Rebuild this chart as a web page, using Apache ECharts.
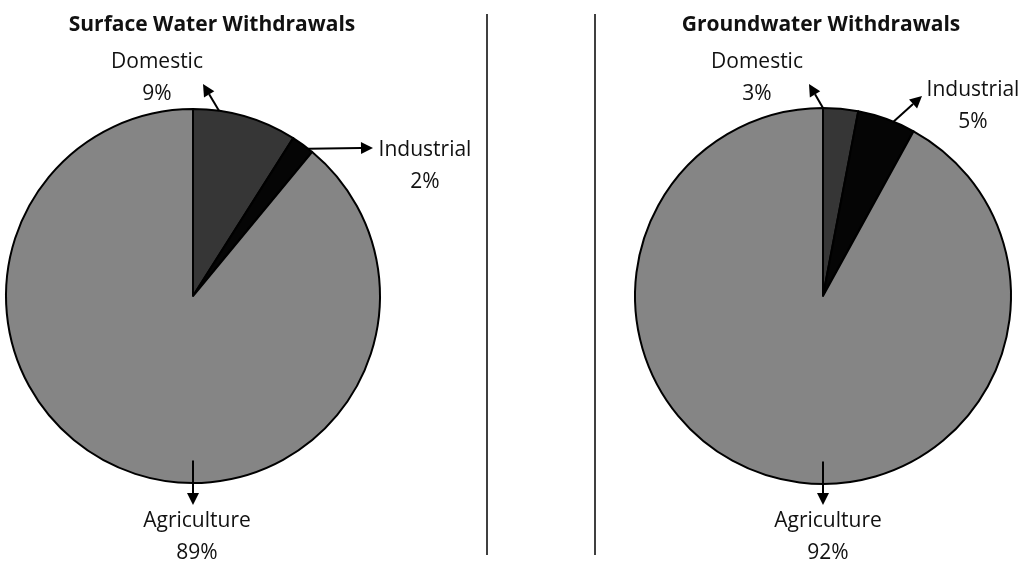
<!DOCTYPE html>
<html>
<head>
<meta charset="utf-8">
<script src="https://cdn.jsdelivr.net/npm/echarts@6/dist/echarts.min.js"></script>
<style>
  html, body { margin: 0; padding: 0; background: #fff; }
  #chart { width: 1028px; height: 572px; }
</style>
</head>
<body>
<div id="chart"></div>
<script>
// data (percent of withdrawals)
const categories = ['Domestic', 'Industrial', 'Agriculture']
const surfaceShares = [9, 2, 89]
const groundShares = [3, 5, 92]
const titles = ['Surface Water Withdrawals', 'Groundwater Withdrawals']

const FONT = 'Open Sans'
const sliceColors = ['#363636', '#050505', '#858585']

// pie placement + where each callout sits
const pies = [
  {
    center: [193, 296], radius: 187, titleX: 207,
    labels: [[157, 78], [425, 166], [197, 537]],
    arrows: [
      { angle: 8, rf: 1.0, tip: [203, 84] },
      { angle: 38, rf: 1.0, tip: [373, 148] },
      { angle: 180, rf: 0.88, tip: [193, 505] }
    ]
  },
  {
    center: [823, 296], radius: 188, titleX: 816,
    labels: [[757, 78], [973, 106], [828, 537]],
    arrows: [
      { angle: 0, rf: 1.0, tip: [809, 84] },
      { angle: 22, rf: 1.0, tip: [922, 96] },
      { angle: 180, rf: 0.88, tip: [823, 505] }
    ]
  }
]

function arrowGraphics(pie) {
  const out = []
  pie.arrows.forEach(a => {
    const rad = a.angle * Math.PI / 180
    const sx = pie.center[0] + pie.radius * a.rf * Math.sin(rad)
    const sy = pie.center[1] - pie.radius * a.rf * Math.cos(rad)
    const tx = a.tip[0], ty = a.tip[1]
    const len = Math.hypot(tx - sx, ty - sy)
    const ux = (tx - sx) / len, uy = (ty - sy) / len
    const headLen = 12, headW = 6
    const bx = tx - ux * headLen, by = ty - uy * headLen
    out.push({
      type: 'polyline',
      shape: { points: [[sx, sy], [bx, by]] },
      style: { stroke: '#000', lineWidth: 2 },
      z: 10
    })
    out.push({
      type: 'polygon',
      shape: { points: [[tx, ty], [bx - uy * headW, by + ux * headW], [bx + uy * headW, by - ux * headW]] },
      style: { fill: '#000' },
      z: 10
    })
  })
  return out
}

function pieSeries(values, pie) {
  return {
    type: 'pie',
    center: pie.center,
    radius: pie.radius,
    startAngle: 90,
    clockwise: true,
    animation: false,
    silent: true,
    itemStyle: { borderColor: '#000', borderWidth: 2 },
    label: {
      show: true,
      position: 'inside',
      formatter: '{b}\n{c}%',
      fontFamily: FONT,
      fontSize: 21,
      lineHeight: 32,
      color: '#111',
      overflow: 'none'
    },
    labelLine: { show: false },
    labelLayout: params => {
      const p = pie.labels[params.dataIndex]
      return { x: p[0], y: p[1], align: 'center', verticalAlign: 'middle' }
    },
    data: categories.map((name, i) => ({
      name: name,
      value: values[i],
      itemStyle: { color: sliceColors[i] }
    }))
  }
}

const chart = echarts.init(document.getElementById('chart'))
chart.setOption({
  backgroundColor: '#fff',
  title: titles.map((t, i) => ({
    text: t,
    left: pies[i].titleX,
    top: 10,
    textAlign: 'center',
    textStyle: { fontFamily: FONT, fontWeight: 'bold', fontSize: 21, color: '#111' }
  })),
  graphic: [
    { type: 'line', shape: { x1: 487, y1: 14, x2: 487, y2: 555 }, style: { stroke: '#000', lineWidth: 1.5 } },
    { type: 'line', shape: { x1: 595, y1: 14, x2: 595, y2: 555 }, style: { stroke: '#000', lineWidth: 1.5 } }
  ].concat(arrowGraphics(pies[0]), arrowGraphics(pies[1])),
  series: [
    pieSeries(surfaceShares, pies[0]),
    pieSeries(groundShares, pies[1])
  ]
})
</script>
</body>
</html>
